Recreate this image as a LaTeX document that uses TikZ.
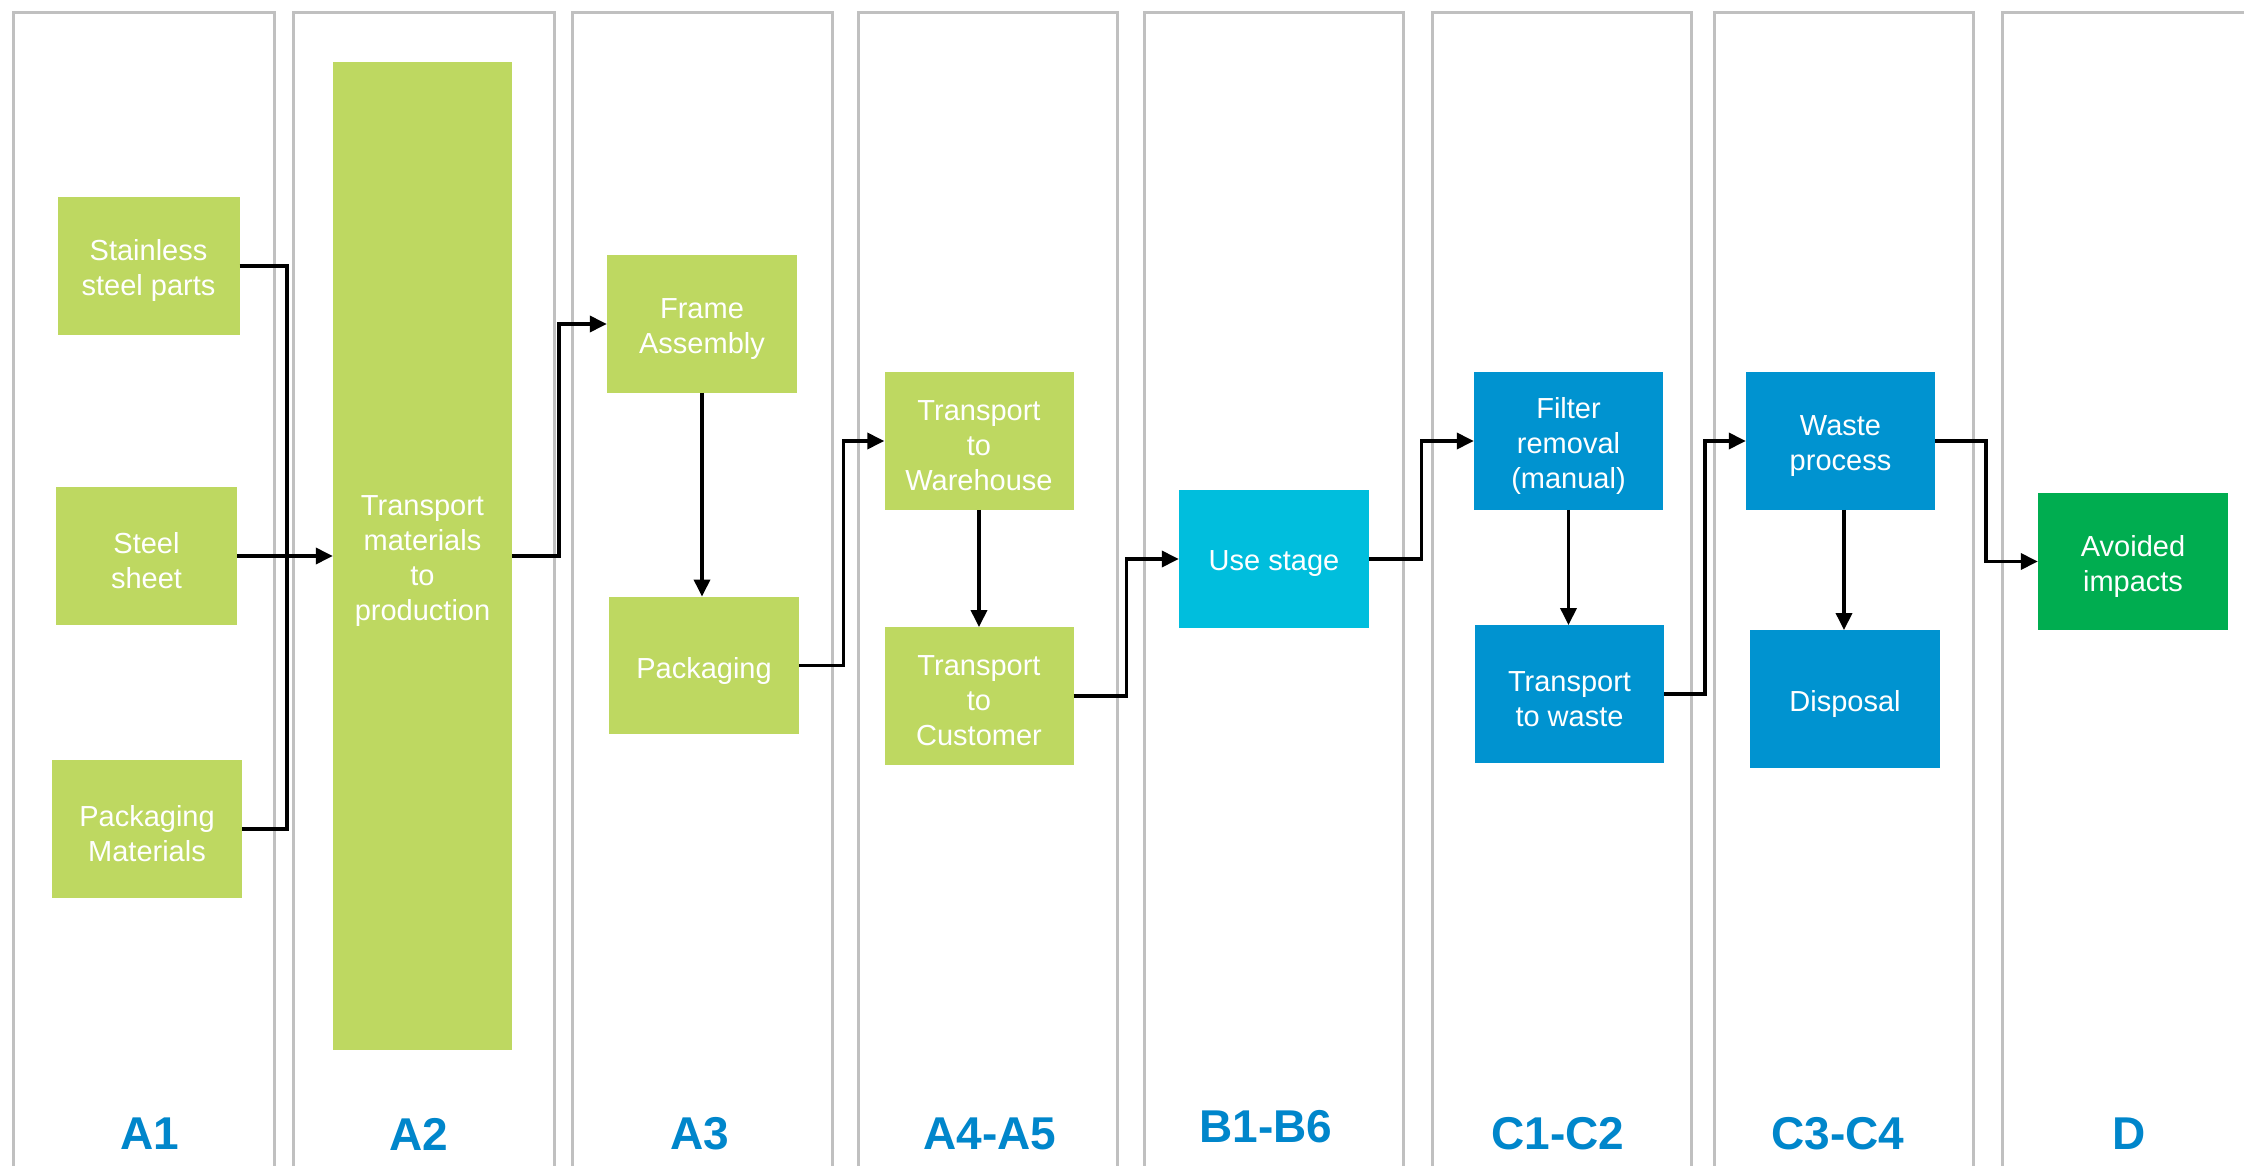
\documentclass[tikz,border=0pt]{standalone}
\usepackage{fontspec}
\setmainfont{Liberation Sans}
\usetikzlibrary{arrows.meta}
\definecolor{boxgreen}{RGB}{190,216,97}
\definecolor{usecyan}{RGB}{0,190,221}
\definecolor{procblue}{RGB}{0,147,208}
\definecolor{avgreen}{RGB}{0,173,80}
\definecolor{labblue}{RGB}{0,134,203}
\definecolor{colgray}{RGB}{192,192,192}
\begin{document}
\begin{tikzpicture}[x=1pt,y=-1pt,
  colbox/.style={draw=colgray, line width=3pt},
  boxtext/.style={align=center, text=white, inner sep=0pt, yshift=-5pt,
    font=\fontsize{29}{35}\selectfont},
  proc/.style={rectangle, inner sep=0pt, minimum width=190pt, minimum height=137.5pt},
  gbox/.style={proc, fill=boxgreen},
  bbox/.style={proc, fill=procblue},
  conn/.style={line width=3.5pt, -{Triangle[length=17pt,width=16pt]}},
  plainline/.style={line width=3.5pt},
  lab/.style={text=labblue, font=\fontsize{46}{50}\selectfont\bfseries}]
\useasboundingbox (0,0) rectangle (2244,1166);
\clip (0,0) rectangle (2244,1166);
\fill[white] (0,0) rectangle (2244,1166);

% columns
\foreach \xa/\xb in {13/274, 293/554, 572/832, 858/1117, 1144/1403, 1432/1691, 1714/1973, 2002/2300}
  \draw[colbox] (\xa,13) rectangle (\xb,1230);

% column labels
\node[lab] (lA1) at (150,1134) {A1};
\node[lab] (lA2) at (419,1134) {A2};
\node[lab] (lA3) at (700,1134) {A3};
\node[lab] (lA4) at (990,1134) {A4-A5};
\node[lab] (lB) at (1266,1127) {B1-B6};
\node[lab] (lC1) at (1558,1134) {C1-C2};
\node[lab] (lC3) at (1838,1134) {C3-C4};
\node[lab] (lD) at (2129,1134) {D};

% boxes
\node[gbox, minimum width=182pt, label={[boxtext]center:{Stainless\\steel parts}}] (ss) at (148.5,266) {};
\node[gbox, minimum width=181pt, label={[boxtext]center:{Steel\\sheet}}] (st) at (146.5,556) {};
\node[gbox, label={[boxtext]center:{Packaging\\Materials}}] (pm) at (147,829) {};
\node[gbox, minimum width=179pt, minimum height=987pt, label={[boxtext]center:{Transport\\materials\\to\\production}}] (tmp) at (422.5,556) {};
\node[gbox, label={[boxtext]center:{Frame\\Assembly}}] (fa) at (702,324) {};
\node[gbox, label={[boxtext]center:{Packaging}}] (pk) at (704,665.5) {};
\node[gbox, minimum width=189pt, label={[boxtext]center:{Transport\\to\\Warehouse}}] (tw) at (979,441) {};
\node[gbox, minimum width=189pt, label={[boxtext]center:{Transport\\to\\Customer}}] (tc) at (979,696) {};
\node[proc, fill=usecyan, label={[boxtext]center:{Use stage}}] (use) at (1274,559) {};
\node[bbox, minimum width=189pt, label={[boxtext]center:{Filter\\removal\\(manual)}}] (fr) at (1568.5,441) {};
\node[bbox, minimum width=189pt, label={[boxtext]center:{Transport\\to waste}}] (tws) at (1569.5,694) {};
\node[bbox, minimum width=189pt, label={[boxtext]center:{Waste\\process}}] (wp) at (1840.5,441) {};
\node[bbox, label={[boxtext]center:{Disposal}}] (di) at (1845,699) {};
\node[proc, fill=avgreen, label={[boxtext]center:{Avoided\\impacts}}] (av) at (2133,561.5) {};

% connectors
\coordinate (j) at (287,556);
\draw[plainline] (ss.east) -| (j);
\draw[plainline] (pm.east) -| (j);
\draw[conn] (st.east) -- (st.east -| tmp.west);
\draw[conn] (tmp.east) -- ++(47,0) |- (fa.west);
\draw[conn] (fa.south) -- (fa.south |- pk.north);
\draw[conn] (pk.east) -- ++(44.5,0) |- (tw.west);
\draw[conn] (tw.south) -- (tc.north);
\draw[conn] (tc.east) -- ++(53,0) |- (use.west);
\draw[conn] (use.east) -- ++(52.5,0) |- (fr.west);
\draw[conn] (fr.south) -- (fr.south |- tws.north);
\draw[conn] (tws.east) -- ++(41,0) |- (wp.west);
\draw[conn] ([xshift=-1pt]wp.south -| di.north) -- ([xshift=-1pt]di.north);
\draw[conn] (wp.east) -- ++(51,0) |- (av.west);
\end{tikzpicture}
\end{document}
